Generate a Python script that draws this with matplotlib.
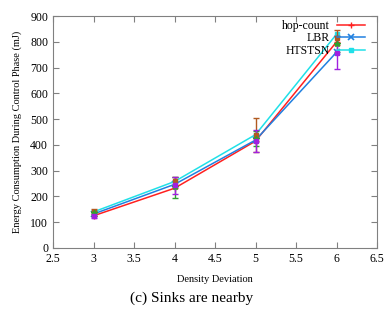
import numpy as np
import matplotlib
matplotlib.use("Agg")
import matplotlib.pyplot as plt

plt.rcParams['font.family'] = ['Liberation Serif', 'DejaVu Serif']

# data
density = [3, 4, 5, 6]
hop_count = [125, 232, 415, 800]
lbr = [132, 247, 419, 760]
htstsn = [140, 258, 440, 830]

# error bar series
err_mean_a = [141, 260, 438, 816]
err_a = [10, 15, 66, 30]
err_mean_b = [134, 236, 425, 791]
err_b = [10, 40, 30, 30]
err_mean_c = [125, 244, 416, 758]
err_c = [8, 33, 42, 64]

xticks = [2.5, 3, 3.5, 4, 4.5, 5, 5.5, 6, 6.5]
yticks = [0, 100, 200, 300, 400, 500, 600, 700, 800, 900]

fig = plt.figure(figsize=(3.84, 3.10), dpi=100)
ax = fig.add_axes([0.138, 0.2, 0.844, 0.748])

ax.plot(density, hop_count, color='#ff2020', lw=1.1, marker='+', ms=5, label='hop-count')
ax.plot(density, lbr, color='#2080e0', lw=1.1, marker='x', ms=4, mew=1.2, label='LBR')
ax.plot(density, htstsn, color='#20e0e8', lw=1.1, marker='s', ms=3.5, label='HTSTSN')

ax.errorbar(density, err_mean_a, yerr=err_a, fmt='s', color='#b05a20', ms=3.5, capsize=2, lw=1)
ax.errorbar(density, err_mean_b, yerr=err_b, fmt='*', color='#30a030', ms=4, capsize=2, lw=1)
ax.errorbar(density, err_mean_c, yerr=err_c, fmt='s', color='#a020e0', ms=3.5, capsize=2, lw=1)

ax.set_xlim(2.5, 6.5)
ax.set_ylim(0, 900)
ax.set_xticks(xticks)
ax.set_xticklabels(['2.5', '3', '3.5', '4', '4.5', '5', '5.5', '6', '6.5'])
ax.set_yticks(yticks)
ax.tick_params(direction='in', top=True, right=True, labelsize=8.5, length=4, color='#808080')
for s in ax.spines.values():
    s.set_color('#808080')

ax.set_xlabel('Density Deviation', fontsize=7.5, labelpad=7)
ax.set_ylabel('Energy Consumption During Control Phase (mJ)', fontsize=7.5, labelpad=6)

leg = ax.legend(loc='upper right', bbox_to_anchor=(0.975, 1.0), frameon=False, fontsize=8.5,
                markerfirst=False, handlelength=2.4, borderaxespad=0.0, borderpad=0.35,
                labelspacing=0.02, handletextpad=0.6)

fig.text(0.5, 0.039, '(c) Sinks are nearby', ha='center', va='center', fontsize=11)

fig.savefig('out.png', dpi=100)
